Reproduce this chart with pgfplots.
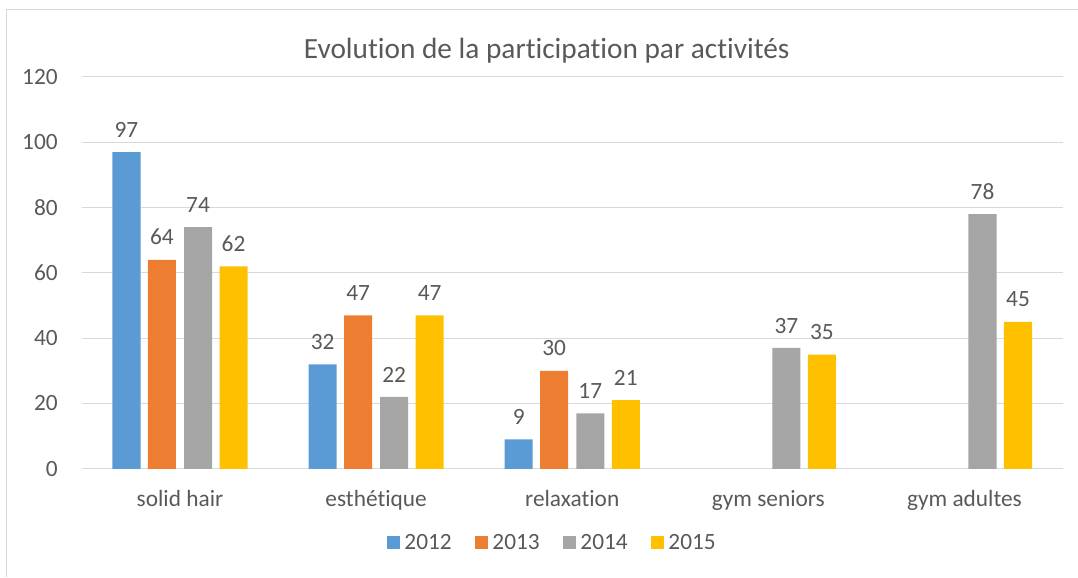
\documentclass[border=0pt]{standalone}
\usepackage{pgfplots}
\pgfplotsset{compat=1.18}
\usepackage{fontspec}
\setmainfont{Carlito}[Ligatures=NoCommon]
\definecolor{cA}{HTML}{5B9BD5}
\definecolor{cB}{HTML}{ED7D31}
\definecolor{cC}{HTML}{A5A5A5}
\definecolor{cD}{HTML}{FFC000}
\definecolor{txt}{HTML}{595959}
\definecolor{gridc}{HTML}{D9D9D9}
\begin{document}
\begin{tikzpicture}
\path (0pt,0pt) rectangle (808.5pt,432.75pt);
\draw[gridc, line width=0.75pt] (5.25pt,0pt) -- (5.25pt,425.25pt) -- (808.5pt,425.25pt);
\node[anchor=base, text=txt, font=\fontsize{22}{26}\selectfont, inner sep=0pt] at (410.25pt,388.5pt) {Evolution de la participation par activités};
\begin{axis}[
  at={(61.5pt,81pt)}, anchor=south west,
  scale only axis, width=735.75pt, height=294pt,
  ybar,
  xmin=-0.5, xmax=4.5, ymin=0, ymax=120,
  ytick={0,20,...,120},
  xtick={0,1,2,3,4},
  xticklabels={solid hair, esthétique, relaxation, gym seniors, gym adultes},
  axis line style={draw=none},
  major tick length=0pt,
  ymajorgrids, grid style={gridc, line width=0.75pt},
  /pgf/number format/assume math mode=true,
  tick label style={text=txt, font=\fontsize{17.5}{20}\selectfont, inner sep=0pt},
  yticklabel style={anchor=east, xshift=-18pt},
  xticklabel style={anchor=base, yshift=-28.5pt},
  bar width=0.143,
  nodes near coords,
  every node near coord/.append style={text=txt, font=\fontsize{17.5}{20}\selectfont, yshift=7.5pt},
  legend style={at={(0.481,-0.189)}, anchor=center, draw=none, fill=none, legend columns=4,
    font=\fontsize{17.5}{20}\selectfont, text=txt,
    /tikz/every even column/.append style={column sep=14.8pt},
    nodes={inner xsep=3pt, inner ysep=0pt}},
  legend image code/.code={\fill[#1] (0pt,-4.4pt) rectangle (9.75pt,5.4pt);},
]
\addplot[fill=cA, draw=none, bar shift=-0.273] coordinates {(0,97) (1,32) (2,9)};
\addplot[fill=cB, draw=none, bar shift=-0.092] coordinates {(0,64) (1,47) (2,30)};
\addplot[fill=cC, draw=none, bar shift=0.092] coordinates {(0,74) (1,22) (2,17) (3,37) (4,78)};
\addplot[fill=cD, draw=none, bar shift=0.273] coordinates {(0,62) (1,47) (2,21) (3,35) (4,45)};
\legend{2012,2013,2014,2015}
\end{axis}
\end{tikzpicture}
\end{document}
